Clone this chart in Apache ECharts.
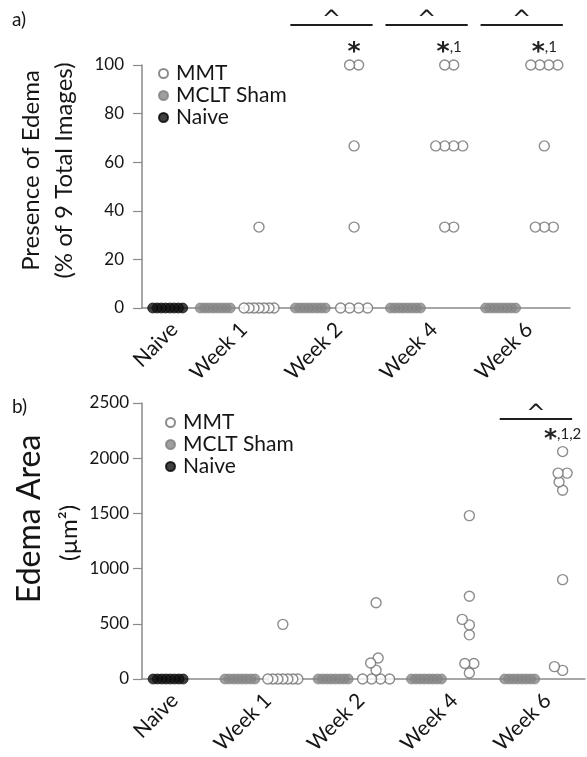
<!DOCTYPE html>
<html><head><meta charset="utf-8">
<script src="https://cdn.jsdelivr.net/npm/echarts@6/dist/echarts.min.js"></script>
<style>html,body{margin:0;padding:0;background:#fff}#c{width:587px;height:757px}</style>
</head><body><div id="c"></div>
<script>
// ---------- data ----------
const groupNames = ['Naive', 'Week 1', 'Week 2', 'Week 4', 'Week 6'];
const seriesNames = ['MMT', 'MCLT Sham', 'Naive'];

// Panel a) Presence of edema (% of 9 total images)
const presenceNaive   = [0, 0, 0, 0, 0, 0, 0, 0];
const presenceShamW1  = [0, 0, 0, 0, 0, 0, 0, 0];
const presenceShamW2  = [0, 0, 0, 0, 0, 0, 0, 0];
const presenceShamW4  = [0, 0, 0, 0, 0, 0, 0, 0];
const presenceShamW6  = [0, 0, 0, 0, 0, 0, 0, 0];
const presenceMmtW1   = [0, 0, 0, 0, 0, 0, 0, 33.3];
const presenceMmtW2   = [0, 0, 0, 0, 33.3, 66.7, 100, 100];
const presenceMmtW4   = [33.3, 33.3, 66.7, 66.7, 66.7, 66.7, 100, 100];
const presenceMmtW6   = [33.3, 33.3, 33.3, 66.7, 100, 100, 100, 100];
const presenceTicks   = [0, 20, 40, 60, 80, 100];

// Panel b) Edema area (µm²)
const areaNaive  = [0, 0, 0, 0, 0, 0, 0, 0];
const areaShamW1 = [0, 0, 0, 0, 0, 0, 0, 0];
const areaShamW2 = [0, 0, 0, 0, 0, 0, 0, 0];
const areaShamW4 = [0, 0, 0, 0, 0, 0, 0, 0];
const areaShamW6 = [0, 0, 0, 0, 0, 0, 0, 0];
const areaMmtW1  = [0, 0, 0, 0, 0, 0, 0, 495];
const areaMmtW2  = [0, 0, 0, 0, 80, 145, 190, 690];
const areaMmtW4  = [55, 140, 140, 400, 490, 540, 750, 1480];
const areaMmtW6  = [78, 112, 900, 1710, 1785, 1865, 1865, 2060];
const areaTicks  = [0, 500, 1000, 1500, 2000, 2500];

// significance annotations
const sigA = [
  { group: 'Week 2', bar: '^', star: '*', note: '' },
  { group: 'Week 4', bar: '^', star: '*', note: ',1' },
  { group: 'Week 6', bar: '^', star: '*', note: ',1' }
];
const sigB = [
  { group: 'Week 6', bar: '^', star: '*', note: ',1,2' }
];

// ---------- layout / style ----------
const FONT = 'Lato, "Open Sans", sans-serif';
const TXT = '#151515';
const AXC = '#8a8a8a';
const SYM = 10;       // symbol size
const DMIN = 9;       // min distance between distinct-valued points (px)
const SIDE = 0.23;    // sham / MMT offset from group centre (x units)
const LABEL_SHIFT = 0.07;

const panels = [
  { grid: { left: 142, top: 65, width: 428, height: 243 }, xMin: 0, xMax: 4.5,
    centers: [0.27, 1, 2, 3, 4], yMax: 100, ticks: presenceTicks, labelMargin: 18,
    naive: presenceNaive,
    sham: [presenceShamW1, presenceShamW2, presenceShamW4, presenceShamW6],
    mmt: [presenceMmtW1, presenceMmtW2, presenceMmtW4, presenceMmtW6],
    legend: { left: 153, top: 58 }, sig: sigA, sigLineDy: -40, sigStarDy: 22 },
  { grid: { left: 142, top: 403, width: 443, height: 276 }, xMin: -0.28, xMax: 4.47,
    centers: [0, 1, 2, 3, 4], yMax: 2500, ticks: areaTicks, labelMargin: 13,
    naive: areaNaive,
    sham: [areaShamW1, areaShamW2, areaShamW4, areaShamW6],
    mmt: [areaMmtW1, areaMmtW2, areaMmtW4, areaMmtW6],
    legend: { left: 160, top: 407 }, sig: sigB, sigLineDy: 16, sigStarDy: 15 }
];

// beeswarm-style horizontal spreading (offsets in px)
function swarm(values, pxPerY) {
  const s = values.slice().sort((a, b) => a - b);
  const placed = [];
  let i = 0;
  while (i < s.length) {
    let j = i;
    while (j < s.length && s[j] === s[i]) j++;
    const k = j - i;
    const py = s[i] * pxPerY;
    if (k > 1) {
      const step = Math.min(9, 30 / (k - 1));
      for (let m = 0; m < k; m++) placed.push({ v: s[i], py, ox: (m - (k - 1) / 2) * step });
    } else {
      const cands = [0];
      placed.forEach(p => {
        const dy = py - p.py;
        if (Math.abs(dy) < DMIN) {
          const dx = Math.sqrt(DMIN * DMIN - dy * dy);
          cands.push(p.ox - dx, p.ox + dx);
        }
      });
      cands.sort((a, b) => Math.abs(a) - Math.abs(b) || a - b);
      let best = cands[0];
      for (const c of cands) {
        const ok = placed.every(p => (c - p.ox) ** 2 + (py - p.py) ** 2 >= DMIN * DMIN - 1e-6);
        if (ok) { best = c; break; }
      }
      placed.push({ v: s[i], py, ox: best });
    }
    i = j;
  }
  // draw right-to-left so the leftmost circle ends on top
  return placed.sort((a, b) => b.ox - a.ox);
}

function points(panel, center, side, values) {
  const pxX = panel.grid.width / (panel.xMax - panel.xMin);
  const pxY = panel.grid.height / panel.yMax;
  return swarm(values, pxY).map(p => [center + side + p.ox / pxX, p.v]);
}

const option = {
  animation: false,
  backgroundColor: '#fff',
  textStyle: { fontFamily: FONT },
  grid: [], xAxis: [], yAxis: [], series: [], legend: []
};

const mmtStyle = { color: '#ffffff', borderColor: '#6f6f6f', borderWidth: 1.4 };
const shamStyle = { color: '#878787', borderColor: '#7e7e7e', borderWidth: 0.8 };
const naiveStyle = { color: '#111111', borderColor: '#000000', borderWidth: 0.8 };

panels.forEach((P, pi) => {
  option.grid.push(Object.assign({ outerBoundsMode: 'none', containLabel: false }, P.grid));
  const labelAt = P.centers.map(c => c + LABEL_SHIFT);
  option.xAxis.push({
    gridIndex: pi, type: 'value', min: P.xMin, max: P.xMax,
    splitLine: { show: false },
    axisLine: { show: true, onZero: true, lineStyle: { color: AXC, width: 1.5 } },
    axisTick: { show: false },
    axisLabel: {
      customValues: labelAt, rotate: 45, margin: 18,
      fontSize: 21, color: TXT, fontFamily: FONT,
      formatter: v => {
        const idx = labelAt.findIndex(c => Math.abs(c - v) < 1e-6);
        return idx >= 0 ? groupNames[idx] : '';
      }
    }
  });
  const step = P.ticks[1] - P.ticks[0];
  option.yAxis.push({
    gridIndex: pi, type: 'value', min: P.ticks[0], max: P.ticks[P.ticks.length - 1], interval: step,
    splitLine: { show: false },
    axisLine: { show: true, onZero: false, lineStyle: { color: AXC, width: 1.5 } },
    axisTick: { show: true, inside: false, length: 9, lineStyle: { color: AXC, width: 1.2 } },
    axisLabel: { fontSize: 17, color: TXT, fontFamily: FONT, margin: P.labelMargin,
      formatter: v => String(v) }
  });

  const mmtData = [], shamData = [];
  P.mmt.forEach((vals, g) => mmtData.push(...points(P, P.centers[g + 1], SIDE, vals)));
  P.sham.forEach((vals, g) => shamData.push(...points(P, P.centers[g + 1], -SIDE, vals)));
  const naiveData = points(P, P.centers[0], 0, P.naive);
  P._mmt = mmtData; P._sham = shamData;

  const base = { type: 'scatter', xAxisIndex: pi, yAxisIndex: pi, symbol: 'circle', symbolSize: SYM, clip: false };
  option.series.push(Object.assign({}, base, { name: 'MCLT Sham', data: shamData, itemStyle: shamStyle, z: 2 }));
  option.series.push(Object.assign({}, base, { name: 'Naive', data: naiveData, itemStyle: naiveStyle, z: 2 }));
  option.series.push(Object.assign({}, base, { name: 'MMT', data: mmtData, itemStyle: mmtStyle, z: 3 }));

  option.legend.push({
    left: P.legend.left, top: P.legend.top, orient: 'vertical',
    data: seriesNames, icon: 'circle', itemWidth: 9, itemHeight: 9, itemGap: 1,
    selectedMode: false,
    textStyle: { fontSize: 21, color: TXT, fontFamily: FONT, lineHeight: 20, padding: [0, 0, 0, 3] }
  });
});

const chart = echarts.init(document.getElementById('c'));
chart.setOption(option);

// ---------- text & annotations (positions derived from the chart's own scales) ----------
const graphics = [];
function txt(x, y, text, size, extra) {
  return {
    type: 'text', x, y,
    style: Object.assign({ text, fontSize: size, fontFamily: FONT, fill: TXT,
      textAlign: 'center', textVerticalAlign: 'middle', align: 'center', verticalAlign: 'middle' }, extra || {})
  };
}
graphics.push(txt(12, 20, 'a)', 19, { textAlign: 'left', align: 'left' }));
graphics.push(txt(12, 407, 'b)', 19, { textAlign: 'left', align: 'left' }));

const yA = chart.convertToPixel({ gridIndex: 0 }, [0, 50])[1] - 16;
graphics.push(Object.assign(txt(31, yA, 'Presence of Edema', 24), { rotation: Math.PI / 2 }));
graphics.push(Object.assign(txt(64, yA, '(% of 9 Total Images)', 24), { rotation: Math.PI / 2 }));
const yB = chart.convertToPixel({ gridIndex: 1 }, [0, 1450])[1];
graphics.push(Object.assign(txt(30, yB, 'Edema Area', 32), { rotation: Math.PI / 2 }));
graphics.push(Object.assign(txt(69, yB + 14, '(µm²)', 24), { rotation: Math.PI / 2 }));

panels.forEach((P, pi) => {
  const r = SYM / 2;
  P.sig.forEach(s => {
    const g = groupNames.indexOf(s.group);
    const lo = P.centers[g] - 0.5, hi = P.centers[g] + 0.5;
    const inG = d => d[0] > lo && d[0] < hi;
    const xs = P._sham.filter(inG).concat(P._mmt.filter(inG)).map(d => chart.convertToPixel({ gridIndex: pi }, d)[0]);
    const x1 = Math.min(...xs) - r, x2 = Math.max(...xs) + r;
    const mmtX = chart.convertToPixel({ gridIndex: pi }, [P.centers[g] + SIDE, 0])[0];
    const lineY = P.grid.top + P.sigLineDy;
    graphics.push({ type: 'line', shape: { x1, y1: lineY, x2, y2: lineY }, style: { stroke: '#1e1e1e', lineWidth: 2 } });
    graphics.push(txt((x1 + x2) / 2, lineY - 4, s.bar, 23, { fontFamily: 'DejaVu Sans', fill: '#1e1e1e' }));
    graphics.push({
      type: 'text', x: mmtX, y: lineY + s.star.length * P.sigStarDy,
      style: {
        text: '{s|' + s.star + '}' + (s.note ? '{n|' + s.note + '}' : ''),
        rich: { s: { fontSize: 25, fontFamily: 'DejaVu Sans', fill: '#222', fontWeight: 'bold', lineHeight: 26, padding: [10, 0, 0, 0] },
                n: { fontSize: 15, fontFamily: FONT, fill: '#222' } },
        textAlign: 'center', align: 'center', textVerticalAlign: 'middle', verticalAlign: 'middle'
      }
    });
  });
});
chart.setOption({ graphic: graphics });
</script>
</body></html>
